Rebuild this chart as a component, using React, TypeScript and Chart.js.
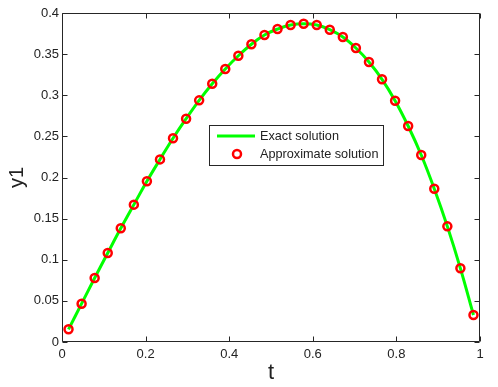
import React, { useEffect, useRef } from "react";
import { Chart, registerables } from "chart.js";

Chart.register(...registerables);

// ---- data ----
const tValues = [
  0.0156, 0.0469, 0.0781, 0.1094, 0.1406, 0.1719, 0.2031, 0.2344,
  0.2656, 0.2969, 0.3281, 0.3594, 0.3906, 0.4219, 0.4531, 0.4844,
  0.5156, 0.5469, 0.5781, 0.6094, 0.6406, 0.6719, 0.7031, 0.7344,
  0.7656, 0.7969, 0.8281, 0.8594, 0.8906, 0.9219, 0.9531, 0.9844,
];

const exactSolution = [
  0.0154, 0.0466, 0.0778, 0.1082, 0.1382, 0.167, 0.1954, 0.222,
  0.2477, 0.2715, 0.2938, 0.314, 0.332, 0.348, 0.362, 0.3733,
  0.3805, 0.3854, 0.387, 0.3854, 0.3797, 0.3708, 0.3574, 0.3404,
  0.3194, 0.2934, 0.2626, 0.2274, 0.1864, 0.1406, 0.0896, 0.0328,
];

const approximateSolution = [
  0.0154, 0.0466, 0.0778, 0.1082, 0.1382, 0.167, 0.1954, 0.222,
  0.2477, 0.2715, 0.2938, 0.314, 0.332, 0.348, 0.362, 0.3733,
  0.3805, 0.3854, 0.387, 0.3854, 0.3797, 0.3708, 0.3574, 0.3404,
  0.3194, 0.2934, 0.2626, 0.2274, 0.1864, 0.1406, 0.0896, 0.0328,
];

const seriesLabels = ["Exact solution", "Approximate solution"];

const xTickValues = [0, 0.2, 0.4, 0.6, 0.8, 1];
const xTickLabels = ["0", "0.2", "0.4", "0.6", "0.8", "1"];
const yTickValues = [0, 0.05, 0.1, 0.15, 0.2, 0.25, 0.3, 0.35, 0.4];
const yTickLabels = ["0", "0.05", "0.1", "0.15", "0.2", "0.25", "0.3", "0.35", "0.4"];

const xTitle = "t";
const yTitle = "y1";

// ---- styles ----
const FONT = "'Liberation Sans', Arial, Helvetica, sans-serif";
const TEXT = "#222222";
const FRAME = "#262626";
const GREEN = "#00ff00";
const RED = "#ff0000";

const framePlugin = {
  id: "matlabFrame",
  beforeDatasetsDraw(chart: any) {
    const { ctx, chartArea } = chart;
    const { left, right, top, bottom } = chartArea;
    const xs = chart.scales.x;
    const ys = chart.scales.y;
    const L = Math.round(left) + 0.5;
    const R = Math.round(right) - 0.5;
    const T = Math.round(top) + 0.5;
    const B = Math.round(bottom) - 0.5;
    const tick = 5;
    ctx.save();
    ctx.strokeStyle = FRAME;
    ctx.lineWidth = 1;
    ctx.beginPath();
    ctx.rect(L, T, R - L, B - T);
    xTickValues.forEach((v) => {
      const px = Math.round(xs.getPixelForValue(v)) + 0.5;
      ctx.moveTo(px, B);
      ctx.lineTo(px, B - tick);
      ctx.moveTo(px, T);
      ctx.lineTo(px, T + tick);
    });
    yTickValues.forEach((v) => {
      const py = Math.round(ys.getPixelForValue(v)) + 0.5;
      ctx.moveTo(L, py);
      ctx.lineTo(L + tick, py);
      ctx.moveTo(R, py);
      ctx.lineTo(R - tick, py);
    });
    ctx.stroke();
    ctx.restore();
  },
  afterDatasetsDraw(chart: any) {
    const { ctx } = chart;
    // legend box
    const bx = 209.5;
    const by = 125.5;
    const bw = 174;
    const bh = 40;
    ctx.save();
    ctx.fillStyle = "#ffffff";
    ctx.fillRect(bx, by, bw, bh);
    ctx.strokeStyle = FRAME;
    ctx.lineWidth = 1;
    ctx.strokeRect(bx, by, bw, bh);

    const row1 = 136;
    const row2 = 154;
    // line sample
    ctx.strokeStyle = GREEN;
    ctx.lineWidth = 3;
    ctx.beginPath();
    ctx.moveTo(217, row1);
    ctx.lineTo(255, row1);
    ctx.stroke();
    // marker sample
    ctx.strokeStyle = RED;
    ctx.lineWidth = 2.5;
    ctx.beginPath();
    ctx.arc(237, row2, 4, 0, Math.PI * 2);
    ctx.stroke();

    ctx.fillStyle = TEXT;
    ctx.font = `12.7px ${FONT}`;
    ctx.textBaseline = "middle";
    ctx.textAlign = "left";
    ctx.fillText(seriesLabels[0], 260, row1 + 0.5);
    ctx.fillText(seriesLabels[1], 260, row2 + 0.5);
    ctx.restore();
  },
};

export default function App() {
  const ref = useRef<HTMLCanvasElement | null>(null);

  useEffect(() => {
    document.body.style.margin = "0";
    const canvas = ref.current;
    if (!canvas) return;

    const exactData = tValues.map((t, i) => ({ x: t, y: exactSolution[i] }));
    const approxData = tValues.map((t, i) => ({ x: t, y: approximateSolution[i] }));

    const chart = new Chart(canvas, {
      type: "line",
      data: {
        datasets: [
          {
            label: seriesLabels[0],
            data: exactData,
            borderColor: GREEN,
            backgroundColor: GREEN,
            borderWidth: 3,
            pointRadius: 0,
            tension: 0.4,
            fill: false,
            order: 2,
          },
          {
            label: seriesLabels[1],
            data: approxData,
            showLine: false,
            borderColor: RED,
            backgroundColor: "rgba(0,0,0,0)",
            pointRadius: 4,
            pointBorderWidth: 2.5,
            pointBorderColor: RED,
            pointBackgroundColor: "rgba(0,0,0,0)",
            order: 1,
          },
        ],
      },
      options: {
        responsive: false,
        animation: false,
        devicePixelRatio: 1,
        layout: { padding: { top: 13, right: 18, left: 0, bottom: 0 } },
        plugins: {
          legend: { display: false },
          tooltip: { enabled: false },
        },
        scales: {
          x: {
            type: "linear",
            min: 0,
            max: 1,
            grid: { display: false, drawTicks: false },
            border: { display: false },
            afterBuildTicks: (scale: any) => {
              scale.ticks = xTickValues.map((v) => ({ value: v }));
            },
            afterFit: (scale: any) => {
              scale.height = 45;
            },
            ticks: {
              autoSkip: false,
              maxRotation: 0,
              padding: 5,
              color: TEXT,
              font: { family: FONT, size: 13 },
              callback: (value: any) => {
                const i = xTickValues.findIndex((v) => Math.abs(v - Number(value)) < 1e-9);
                return i >= 0 ? xTickLabels[i] : "";
              },
            },
            title: {
              display: true,
              text: xTitle,
              color: TEXT,
              font: { family: FONT, size: 22 },
              padding: { top: 0, bottom: 1 },
            },
          },
          y: {
            type: "linear",
            min: 0,
            max: 0.4,
            grid: { display: false, drawTicks: false },
            border: { display: false },
            afterBuildTicks: (scale: any) => {
              scale.ticks = yTickValues.map((v) => ({ value: v }));
            },
            afterFit: (scale: any) => {
              scale.width = 62;
            },
            ticks: {
              autoSkip: false,
              padding: 3,
              color: TEXT,
              font: { family: FONT, size: 13 },
              callback: (value: any) => {
                const i = yTickValues.findIndex((v) => Math.abs(v - Number(value)) < 1e-9);
                return i >= 0 ? yTickLabels[i] : "";
              },
            },
            title: {
              display: true,
              text: yTitle,
              color: TEXT,
              font: { family: FONT, size: 20 },
              padding: { top: 5, bottom: 0 },
            },
          },
        },
      },
      plugins: [framePlugin],
    });

    return () => chart.destroy();
  }, []);

  return <canvas ref={ref} width={498} height={387} style={{ display: "block" }} />;
}
